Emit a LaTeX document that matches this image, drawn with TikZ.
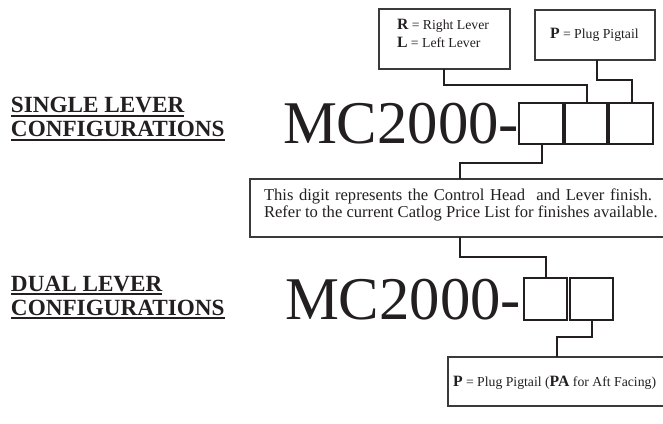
\documentclass[tikz,border=0pt]{standalone}
\usepackage{fontspec}
\setmainfont{Liberation Serif}
\usetikzlibrary{fit}
\definecolor{ink}{HTML}{231F20}
\definecolor{boxline}{HTML}{3A3A3A}
\tikzset{
  sq/.style={draw=ink, line width=1.6pt, inner sep=0pt, outer sep=0pt},
  infobox/.style={draw=boxline, line width=0.9pt, inner sep=0pt, outer sep=0pt},
  conn/.style={draw=ink, line width=1.6pt},
  txt/.style={anchor=base west, inner sep=0pt, outer sep=0pt, text=ink},
  head/.style={txt, font=\fontsize{17.4}{18}\selectfont\bfseries},
  big/.style={txt, font=\fontsize{45.5}{46}\selectfont},
  small/.style={txt, font=\fontsize{10.3}{11}\selectfont},
  mid/.style={txt, font=\fontsize{12.45}{13}\selectfont},
  uline/.style={draw=ink, line width=1.1pt},
}
\newcommand{\bigletter}[1]{{\fontsize{11.8}{12}\selectfont\bfseries #1}}
\begin{document}
\begin{tikzpicture}[x=0.75pt,y=-0.75pt]
\useasboundingbox (0,0) rectangle (663,424);
\begin{scope}
\clip (0,0) rectangle (663,424);
% headings
\node[head] (h1) at (11,113) {SINGLE LEVER};
\node[head] (h2) at (11,137) {CONFIGURATIONS};
\node[head] (h3) at (11,291) {DUAL LEVER};
\node[head] (h4) at (11,315) {CONFIGURATIONS};
\foreach \h in {h1,h2,h3,h4}{
  \draw[uline] ([yshift=-2.2pt]\h.base west) -- ([yshift=-2.2pt]\h.base east);
}
% part numbers
\node[big] (mc1) at (283,144) {MC2000-};
\node[big] (mc2) at (285,319) {MC2000-};
% single squares
\node[sq, fit={(519,103) (563,144)}] (s1) {};
\node[sq, fit={(565,103) (607,144)}] (s2) {};
\node[sq, fit={(609,103) (653,144)}] (s3) {};
% dual squares
\node[sq, fit={(524,278) (567,320)}] (d1) {};
\node[sq, fit={(570,278) (613,320)}] (d2) {};
% boxes
\node[infobox, fit={(379,9) (510,69)}] (rl) {};
\node[infobox, fit={(535,10) (655,60)}] (pb) {};
\node[infobox, fit={(250,179) (680,237)}] (fin) {};
\node[infobox, fit={(448,357) (680,406)}] (pp) {};
% box texts
\node[small] (trl1) at (397,30) {\bigletter{R} = Right Lever};
\node[small] (trl2) at (397,48) {\bigletter{L} = Left Lever};
\node[small] (tp) at (550,39) {\bigletter{P} = Plug Pigtail};
\node[mid] (tf1) at (264,200) {\makebox[291pt][s]{This digit represents the Control Head\ \ and Lever finish.}};
\node[mid] (tf2) at (264,217) {Refer to the current Catlog Price List for finishes available.};
\node[small] (tpp) at (453,386) {\bigletter{P} = Plug Pigtail (\bigletter{PA}\ for Aft Facing)};
% connectors
\coordinate (a1) at (444,85);
\coordinate (a2) at (587,85);
\draw[conn] (rl.south -| a1) -- (a1) -- (a2) -- (s2.north -| a2);
\coordinate (b1) at (597,80);
\coordinate (b2) at (632,80);
\draw[conn] (pb.south -| b1) -- (b1) -- (b2) -- (s3.north -| b2);
\coordinate (c1) at (542,163);
\coordinate (c2) at (460,163);
\draw[conn] (s1.south -| c1) -- (c1) -- (c2) -- (fin.north -| c2);
\coordinate (e1) at (460,257);
\coordinate (e2) at (546,257);
\draw[conn] (fin.south -| e1) -- (e1) -- (e2) -- (d1.north -| e2);
\coordinate (f1) at (592,337);
\coordinate (f2) at (557,337);
\draw[conn] (d2.south -| f1) -- (f1) -- (f2) -- (pp.north -| f2);
\end{scope}
\end{tikzpicture}
\end{document}
